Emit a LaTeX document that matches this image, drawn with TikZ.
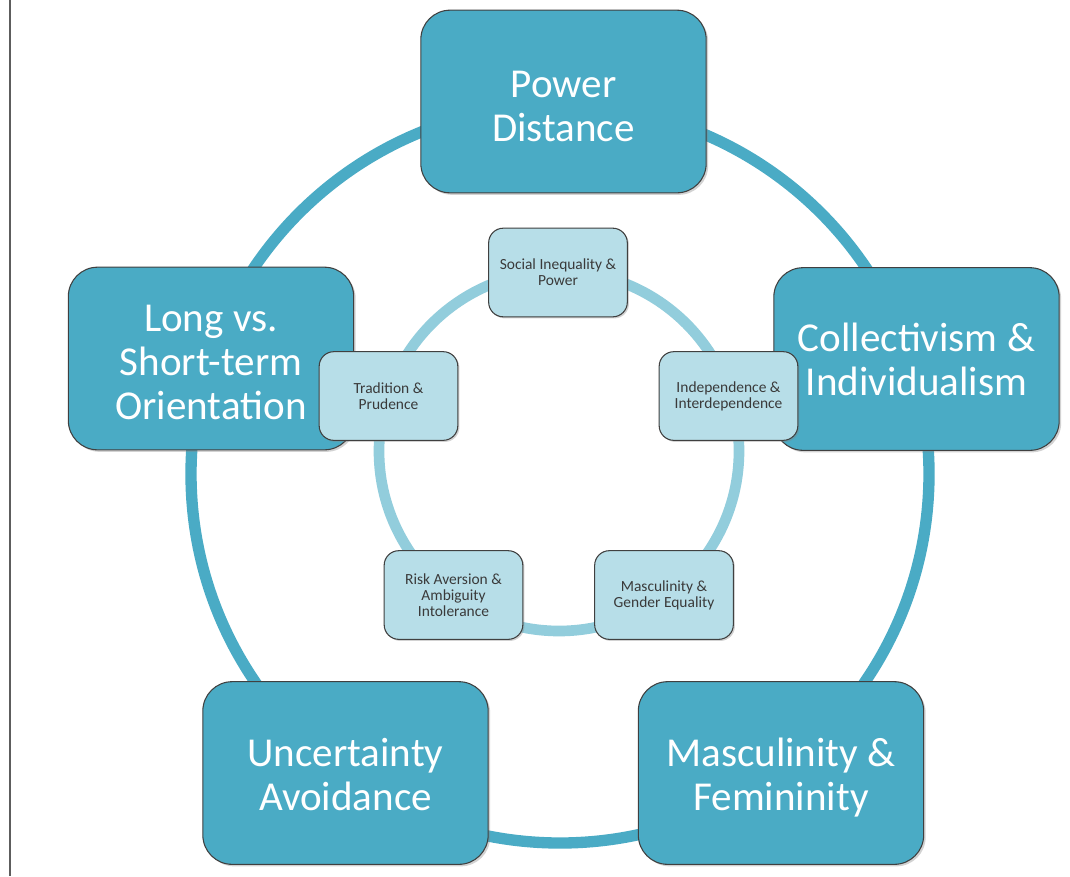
\documentclass[tikz,border=0pt]{standalone}
\usepackage{fontspec}
\setmainfont{Carlito}
\usetikzlibrary{shadows}
\definecolor{outerfill}{HTML}{4AABC5}
\definecolor{innerfill}{HTML}{B7DEE8}
\definecolor{innerring}{HTML}{92CDDC}
\definecolor{boxline}{HTML}{404040}
\definecolor{innertext}{HTML}{3A3A3A}
\tikzset{
  bigbox/.style={draw=boxline, line width=0.8pt, fill=outerfill, rounded corners=22pt,
    minimum width=214pt, minimum height=137pt, align=center, text=white,
    font=\fontsize{30.8}{33}\selectfont, inner sep=2pt,
    drop shadow={shadow xshift=1.5pt, shadow yshift=-1.5pt, opacity=0.35}},
  bigtext/.style={align=center, text=white, font=\fontsize{30.8}{33}\selectfont, inner sep=0pt},
  smallbox/.style={draw=boxline, line width=0.8pt, fill=innerfill, rounded corners=11pt,
    minimum width=104pt, minimum height=66.5pt, align=center, text=innertext,
    font=\fontsize{11.6}{12.2}\selectfont, inner sep=2pt,
    drop shadow={shadow xshift=1.2pt, shadow yshift=-1.2pt, opacity=0.35}},
  outerring/.style={draw=outerfill, line width=8.5pt, circle, minimum size=553.5pt, inner sep=0pt},
  innerringst/.style={draw=innerring, line width=8pt, circle, minimum size=270pt, inner sep=0pt},
}
\begin{document}
\begin{tikzpicture}[x=0.75pt, y=-0.75pt]
\useasboundingbox (0,0) rectangle (1070,876);
\fill[white] (0,0) rectangle (1070,876);
\coordinate (bt) at (10,0);
\coordinate (bb) at (10,876);
\draw[line width=1.5pt, color=boxline!85] (bt) -- (bb);
% outer ring
\node[outerring] (ring) at (560,474) {};
% outer boxes
\node[bigbox] (pd) at (563.5,101.5) {};
\node[bigbox] (ci) at (916.5,359) {};
\node[bigbox] (lo) at (211,358.5) {};
\node[bigbox] (ua) at (345.5,773) {};
\node[bigbox] (mf) at (781,773) {};
\node[bigtext] (pdt) at ([yshift=-3.5pt]pd.center) {Power\\Distance};
\node[bigtext] (cit) at ([yshift=-0.5pt]ci.center) {Collectivism \&\\Individualism};
\node[bigtext] (lot) at ([yshift=-3pt]lo.center) {Long vs.\\Short-term\\Orientation};
\node[bigtext] (uat) at ([yshift=-1pt]ua.center) {Uncertainty\\Avoidance};
\node[bigtext] (mft) at ([yshift=-3.5pt]mf.center) {Masculinity \&\\Femininity};
% inner ring
\node[innerringst] (iring) at (559,451) {};
% inner boxes
\node[smallbox] (si) at (558,272.5) {Social Inequality \&\\Power};
\node[smallbox] (ii) at (728.5,396) {Independence \&\\Interdependence};
\node[smallbox] (tp) at (388.5,396) {Tradition \&\\Prudence};
\node[smallbox] (ra) at (453.5,595) {Risk Aversion \&\\Ambiguity\\Intolerance};
\node[smallbox] (mg) at (664,595) {Masculinity \&\\Gender Equality};
\end{tikzpicture}
\end{document}
